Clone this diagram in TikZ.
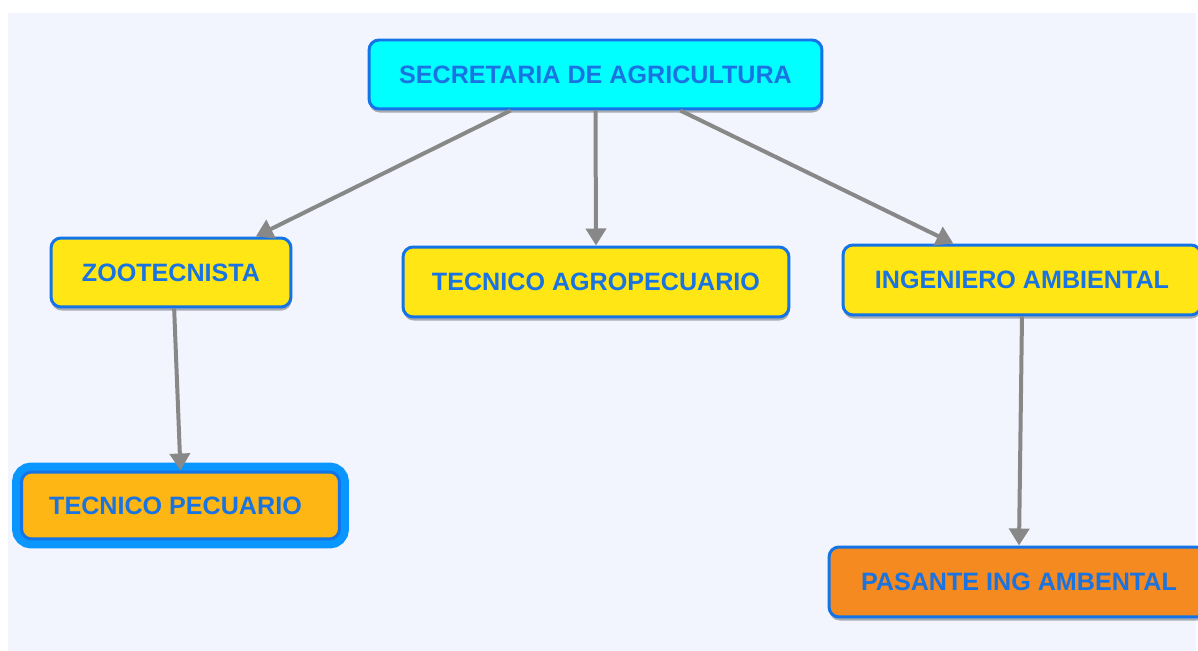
\documentclass[tikz,border=0pt]{standalone}
\usepackage{fontspec}
\setmainfont{Liberation Sans}
\usetikzlibrary{shadows,arrows.meta}

\definecolor{bgblue}{RGB}{242,245,254}
\definecolor{txtblue}{RGB}{25,115,225}
\definecolor{lineblue}{RGB}{20,115,230}
\definecolor{glowblue}{RGB}{10,150,255}
\definecolor{cyanfill}{RGB}{0,255,255}
\definecolor{yellowfill}{RGB}{255,230,20}
\definecolor{amberfill}{RGB}{253,182,20}
\definecolor{orangefill}{RGB}{245,138,32}
\definecolor{arrowgray}{RGB}{136,136,136}

\begin{document}
\begin{tikzpicture}[x=0.02cm,y=-0.02cm,
    concept/.style={rounded corners=0.2cm, draw=lineblue, line width=0.06cm,
      text=txtblue, font=\bfseries\fontsize{14.3}{16}\selectfont, inner sep=0pt,
      drop shadow={shadow xshift=0.3pt, shadow yshift=-2pt, fill=black, opacity=0.3}},
    link/.style={draw=arrowgray, line width=0.08cm,
      -{Triangle[length=0.34cm,width=0.4cm]}}]
  \useasboundingbox (0,0) rectangle (1198,651);
  \clip (0,0) rectangle (1198,651);

  % Drawing background
  \fill[white] (0,0) rectangle (1198,651);
  \fill[bgblue] (8,13) rectangle (1196,651);

  % Drawing node SECRETARIA
  \node[concept, fill=cyanfill, minimum width=9.06cm, minimum height=1.38cm] (sec) at (595.5,74.5) {SECRETARIA DE AGRICULTURA};

  % Drawing nodes of second row
  \node[concept, fill=yellowfill, minimum width=4.8cm, minimum height=1.38cm] (zoo) at (171,272.5) {ZOOTECNISTA};
  \node[concept, fill=yellowfill, minimum width=7.72cm, minimum height=1.4cm] (ta) at (596,282) {TECNICO AGROPECUARIO};
  \node[concept, fill=yellowfill, minimum width=7.16cm, minimum height=1.4cm] (ia) at (1022,280) {INGENIERO AMBIENTAL};

  % Drawing nodes of third row
  \node[concept, fill=amberfill, preaction={draw=glowblue, line width=0.38cm},
    minimum width=6.36cm, minimum height=1.34cm] (tp) at (180.5,505.5) {TECNICO PECUARIO\hspace*{0.2cm}};
  \node[concept, fill=orangefill, minimum width=7.6cm, minimum height=1.4cm] (pas) at (1019,582) {PASANTE ING AMBENTAL};

  % Drawing arrows
  \draw[link] (sec.203) -- (zoo.23);
  \draw[link] (sec.south) -- (ta.north);
  \draw[link] (sec.-23) -- (ia.152);
  \draw[link] (zoo.-85) -- (tp.north);
  \draw[link] (ia.south) -- (pas.north);
\end{tikzpicture}
\end{document}
